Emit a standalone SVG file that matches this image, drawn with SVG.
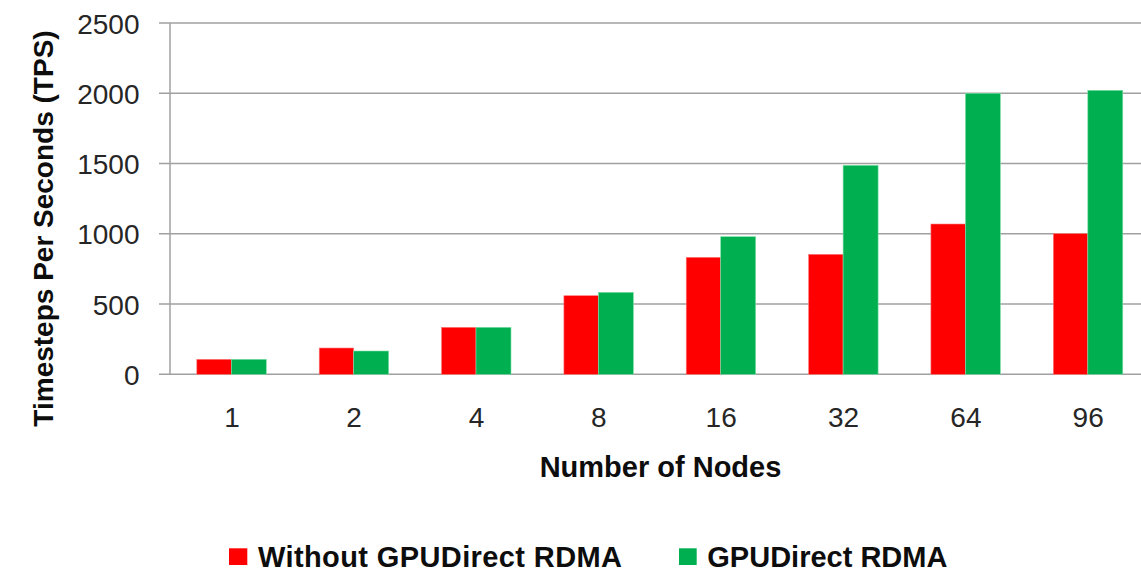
<svg xmlns="http://www.w3.org/2000/svg" width="1141" height="576" viewBox="0 0 1141 576">
<style>
.grid{stroke:#a0a0a0;stroke-width:1.5;fill:none}
.tick{font-family:"Liberation Sans",Arial,sans-serif;font-size:28px;fill:#262626}
.ytick{text-anchor:end}
.xtick{text-anchor:middle}
.title{font-family:"Liberation Sans",Arial,sans-serif;font-weight:bold;font-size:29px;fill:#0d0d0d}
.red{fill:#ff0000;stroke:#ff8080;stroke-width:0.6}
.green{fill:#00b050;stroke:#80e0a8;stroke-width:0.6}
</style>
<rect width="1141" height="576" fill="#ffffff"/>
<g id="gridlines">
<line class="grid" x1="159" y1="23.1" x2="1141" y2="23.1"/>
<line class="grid" x1="159" y1="93.3" x2="1141" y2="93.3"/>
<line class="grid" x1="159" y1="163.6" x2="1141" y2="163.6"/>
<line class="grid" x1="159" y1="233.8" x2="1141" y2="233.8"/>
<line class="grid" x1="159" y1="304.1" x2="1141" y2="304.1"/>
<line class="grid" x1="159" y1="374.3" x2="1141" y2="374.3"/>
<line class="grid" x1="170" y1="23.1" x2="170" y2="374.3"/>
</g>
<g id="y-ticks" class="tick ytick">
<text x="139.5" y="33.5">2500</text>
<text x="139.5" y="103.7">2000</text>
<text x="139.5" y="174">1500</text>
<text x="139.5" y="244.2">1000</text>
<text x="139.5" y="314.5">500</text>
<text x="139.5" y="384.7">0</text>
</g>
<g id="bars">
<rect class="red" x="196.8" y="359.3" width="34.5" height="15"/>
<rect class="green" x="231.3" y="359.3" width="35" height="15"/>
<rect class="red" x="319.2" y="348" width="34.5" height="26.3"/>
<rect class="green" x="353.7" y="351" width="35" height="23.3"/>
<rect class="red" x="441.5" y="327.3" width="34.5" height="47"/>
<rect class="green" x="476" y="327.3" width="35" height="47"/>
<rect class="red" x="563.9" y="295.7" width="34.5" height="78.6"/>
<rect class="green" x="598.4" y="292.3" width="35" height="82"/>
<rect class="red" x="686.2" y="257.3" width="34.5" height="117"/>
<rect class="green" x="720.7" y="236.7" width="35" height="137.6"/>
<rect class="red" x="808.6" y="254.3" width="34.5" height="120"/>
<rect class="green" x="843.1" y="165.3" width="35" height="209"/>
<rect class="red" x="930.9" y="224" width="34.5" height="150.3"/>
<rect class="green" x="965.4" y="93.3" width="35" height="281"/>
<rect class="red" x="1053.3" y="233.7" width="34.5" height="140.6"/>
<rect class="green" x="1087.8" y="90.3" width="35" height="284"/>
</g>
<g id="x-ticks" class="tick xtick">
<text x="232" y="427.3">1</text>
<text x="354" y="427.3">2</text>
<text x="476.5" y="427.3">4</text>
<text x="598.8" y="427.3">8</text>
<text x="721.2" y="427.3">16</text>
<text x="843.5" y="427.3">32</text>
<text x="965.9" y="427.3">64</text>
<text x="1088.2" y="427.3">96</text>
</g>
<g id="x-axis-title">
<text class="title" x="660.5" y="477.3" text-anchor="middle">Number of Nodes</text>
</g>
<g id="y-axis-title">
<text class="title" style="font-size:28px" x="0" y="0" text-anchor="middle" transform="translate(53.3,228.5) rotate(-90)">Timesteps Per Seconds (TPS)</text>
</g>
<g id="legend">
<rect x="229" y="548.3" width="18.3" height="16.7" fill="#ff0000"/>
<text class="title" x="258" y="566.7" textLength="364" lengthAdjust="spacing">Without GPUDirect RDMA</text>
<rect x="679" y="548.3" width="17.7" height="16.7" fill="#00b050"/>
<text class="title" x="707.3" y="566.7">GPUDirect RDMA</text>
</g>
</svg>
